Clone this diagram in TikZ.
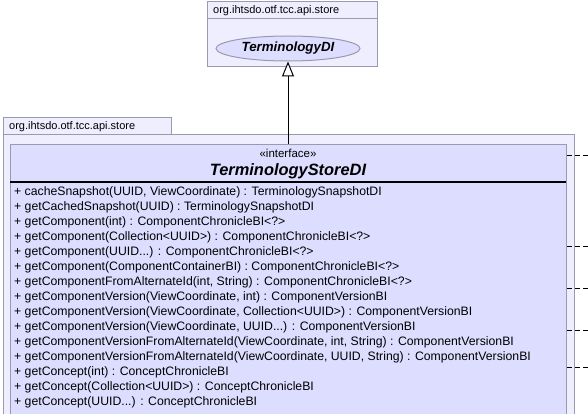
\documentclass[tikz,border=0pt]{standalone}
\usepackage{fontspec}
\setmainfont{Liberation Sans}
\usetikzlibrary{shapes.geometric,arrows.meta}
\definecolor{pkgfill}{HTML}{EEEEFF}
\definecolor{clsfill}{HTML}{DDDDFF}
\definecolor{border}{HTML}{9A9AAE}
\tikzset{
  pkg/.style={draw=border, fill=pkgfill, line width=1pt},
  cls/.style={draw=border, fill=clsfill, line width=1pt},
  member/.style={anchor=west, inner sep=0pt, font=\fontsize{12.25}{14}\selectfont},
  pkglabel/.style={anchor=west, inner sep=0pt, font=\fontsize{11}{13}\selectfont},
  dep/.style={line width=1pt, dash pattern=on 5pt off 3pt},
}
\begin{document}
\begin{tikzpicture}[x=1pt,y=-1pt]
\useasboundingbox (0,0) rectangle (588,414);
\clip (0,0) rectangle (588,414);
% top package
\draw[pkg] (207,2) rectangle (377,67);
\draw[border, line width=1pt] (207,19) -- (377,19);
\node[pkglabel] (toplabel) at (213,10.5) {org.ihtsdo.otf.tcc.api.store};
\node[ellipse, draw=border, fill=clsfill, line width=1pt, minimum width=144pt, minimum height=25pt, inner sep=0pt,
      font=\fontsize{13.3}{15}\selectfont\bfseries\itshape] (tdi) at (288,48.5) {TerminologyDI};
% bottom package
\draw[pkg] (3,118) rectangle (171,135);
\node[pkglabel] (botlabel) at (9,126.5) {org.ihtsdo.otf.tcc.api.store};
\draw[pkg] (3,135) rectangle (574,430);
% class box
\node[cls, minimum width=556pt, minimum height=290pt, anchor=north west, inner sep=0pt] (store) at (10,144) {};
\node[inner sep=0pt, font=\fontsize{11.5}{13}\selectfont] (stereo) at (288,153.5) {«interface»};
\node[inner sep=0pt, font=\fontsize{16.4}{18}\selectfont\bfseries\itshape] (sname) at (288,171) {TerminologyStoreDI};
\draw[line width=2pt] (10,181.7) -- (566,181.7);
% members
\foreach \i/\t in {
 0/{cacheSnapshot(UUID, ViewCoordinate) : TerminologySnapshotDI},
 1/{getCachedSnapshot(UUID) : TerminologySnapshotDI},
 2/{getComponent(int) : ComponentChronicleBI<?>},
 3/{getComponent(Collection<UUID>) : ComponentChronicleBI<?>},
 4/{getComponent(UUID...) : ComponentChronicleBI<?>},
 5/{getComponent(ComponentContainerBI) : ComponentChronicleBI<?>},
 6/{getComponentFromAlternateId(int, String) : ComponentChronicleBI<?>},
 7/{getComponentVersion(ViewCoordinate, int) : ComponentVersionBI},
 8/{getComponentVersion(ViewCoordinate, Collection<UUID>) : ComponentVersionBI},
 9/{getComponentVersion(ViewCoordinate, UUID...) : ComponentVersionBI},
 10/{getComponentVersionFromAlternateId(ViewCoordinate, int, String) : ComponentVersionBI},
 11/{getComponentVersionFromAlternateId(ViewCoordinate, UUID, String) : ComponentVersionBI},
 12/{getConcept(int) : ConceptChronicleBI},
 13/{getConcept(Collection<UUID>) : ConceptChronicleBI},
 14/{getConcept(UUID...) : ConceptChronicleBI}}
{
  \node[member] (m\i) at (14,192+15*\i) {+ \t};
}
% generalization
\draw[line width=1pt, -{Triangle[open, width=12pt, length=15pt, fill=white]}] (store.north -| tdi.south) -- (tdi.south);
% outgoing dependencies (off-picture ends)
\foreach \k/\y in {a/155.3, b/246.3, c/288.3, d/330, e/367.3} {
  \coordinate (out\k) at (592,\y);
  \draw[dep] (store.east |- out\k) -- (out\k);
}
\end{tikzpicture}
\end{document}
